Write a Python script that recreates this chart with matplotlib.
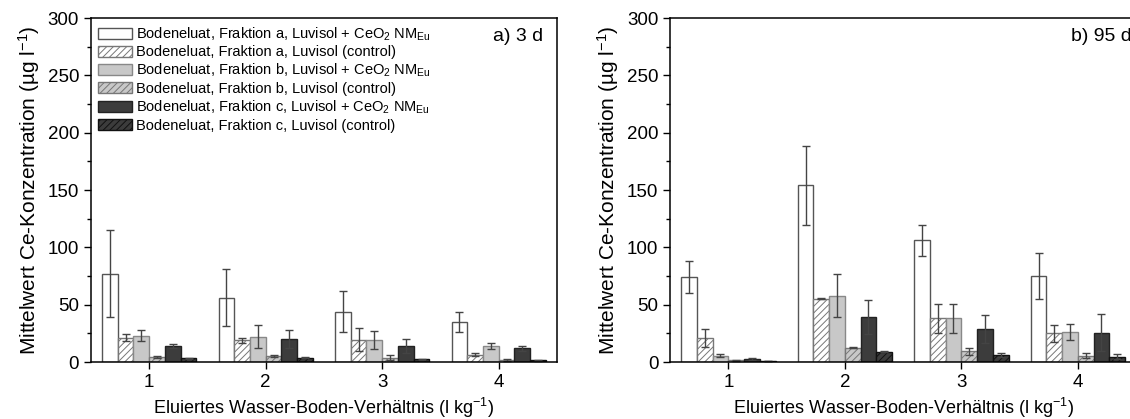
import matplotlib
matplotlib.use("Agg")
import matplotlib.pyplot as plt
import numpy as np

plt.rcParams["font.family"] = ["Liberation Sans", "DejaVu Sans"]
plt.rcParams["mathtext.fontset"] = "custom"
plt.rcParams["mathtext.rm"] = "Liberation Sans"
plt.rcParams["mathtext.it"] = "Liberation Sans"
plt.rcParams["hatch.linewidth"] = 0.7

ratios = [1, 2, 3, 4]
series_labels = [
    r"Bodeneluat, Fraktion a, Luvisol + CeO$_2$ NM$_{\mathrm{Eu}}$",
    "Bodeneluat, Fraktion a, Luvisol (control)",
    r"Bodeneluat, Fraktion b, Luvisol + CeO$_2$ NM$_{\mathrm{Eu}}$",
    "Bodeneluat, Fraktion b, Luvisol (control)",
    r"Bodeneluat, Fraktion c, Luvisol + CeO$_2$ NM$_{\mathrm{Eu}}$",
    "Bodeneluat, Fraktion c, Luvisol (control)",
]

# a) 3 d : mean and error per series, one value per ratio
mean_3d = [
    [77, 56, 44, 35],
    [21, 19, 19.5, 6.5],
    [23, 22, 19, 14],
    [4.7, 5, 3.8, 1.8],
    [14, 20, 14, 12],
    [3.2, 3.8, 2.4, 1.5],
]
err_3d = [
    [38, 25, 18, 9],
    [3, 2, 10, 1.5],
    [5, 10, 8, 2.3],
    [0.8, 1, 2, 0.5],
    [2, 8, 6, 2.4],
    [0.5, 0.5, 0.5, 0.5],
]

# b) 95 d
mean_95d = [
    [74, 154, 106, 75],
    [21, 55, 38, 25],
    [5.3, 58, 38, 26],
    [1.5, 12.5, 9.5, 5.6],
    [2.6, 39.5, 29, 25.5],
    [0.9, 9, 6, 4.4],
]
err_95d = [
    [14, 34.5, 13.5, 20],
    [8, 0.4, 13, 7.3],
    [1.3, 19, 12.5, 7],
    [0.3, 0.5, 3, 2],
    [0.6, 15, 12, 16],
    [0.2, 0.5, 1.7, 2.2],
]

faces = ["white", "white", "#c8c8c8", "#c8c8c8", "#3c3c3c", "#3c3c3c"]
edges = ["#555555", "#777777", "#888888", "#777777", "#222222", "#111111"]
hatches = [None, "/////", None, "/////", None, "/////"]

bar_w = 0.135
fig = plt.figure(figsize=(11.3, 4.19), dpi=100)
ax1 = fig.add_axes([0.0805, 0.136, 0.4124, 0.821])
ax2 = fig.add_axes([0.593, 0.136, 0.4124, 0.821])

x = np.array(ratios, dtype=float)
for ax, means, errs, tag, tx in [(ax1, mean_3d, err_3d, "a) 3 d", 0.97),
                                  (ax2, mean_95d, err_95d, "b) 95 d", 0.99)]:
    for i in range(6):
        pos = x + (i - 2.5) * bar_w
        ax.bar(pos, means[i], bar_w, color=faces[i], edgecolor=edges[i],
               hatch=hatches[i], linewidth=1.0, label=series_labels[i])
        ax.errorbar(pos, means[i], yerr=errs[i], fmt="none",
                    ecolor="#444444", elinewidth=1.0, capsize=3, capthick=1.0)
    ax.set_xlim(0.5, 4.5)
    ax.set_ylim(0, 300)
    ax.set_xticks(ratios)
    ax.set_yticks(np.arange(0, 301, 50))
    ax.set_yticks(np.arange(25, 300, 50), minor=True)
    ax.tick_params(axis="both", direction="out", labelsize=13.5, length=5, width=1)
    ax.tick_params(axis="y", which="minor", direction="out", length=3, width=1)
    for s in ax.spines.values():
        s.set_linewidth(1.1)
    ax.set_ylabel(r"Mittelwert Ce-Konzentration (µg l$^{-1}$)", fontsize=15,
                  labelpad=4)
    ax.set_xlabel(r"Eluiertes Wasser-Boden-Verhältnis (l kg$^{-1}$)", fontsize=13)
    ax.text(tx, 0.945, tag, transform=ax.transAxes, ha="right", va="center",
            fontsize=14)

ax1.legend(loc="upper left", bbox_to_anchor=(0.0, 1.0), frameon=False,
           fontsize=10.5, handlelength=2.3, handleheight=0.8,
           labelspacing=0.18, handletextpad=0.3, borderaxespad=0.2,
           borderpad=0.3)

fig.savefig("out.png", dpi=100)
